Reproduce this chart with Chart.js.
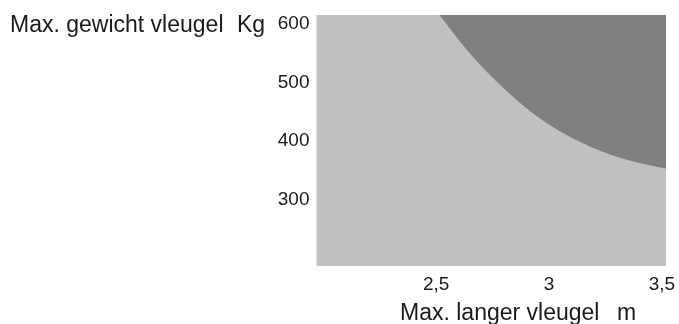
<!DOCTYPE html>
<html>
<head>
<meta charset="utf-8">
<script src="https://cdn.jsdelivr.net/npm/chart.js@4.4.0/dist/chart.umd.min.js"></script>
<style>
  html, body { margin: 0; padding: 0; background: #fff; }
  #wrap { width: 679px; height: 324px; }
</style>
</head>
<body>
<div id="wrap"><canvas id="chart" width="679" height="324"></canvas></div>
<script>
// boundary curve: max wing length (m) vs max wing weight (kg)
const curveLength = [2.517, 2.65, 2.796, 2.947, 3.093, 3.27, 3.416, 3.518];
const curveWeight = [615, 550, 492, 443, 408, 378, 362, 354];

const xTicks = [2.5, 3, 3.5];
const yTicks = [300, 400, 500, 600];

const yTitle = 'Max. gewicht vleugel';
const yUnit = 'Kg';
const xTitle = 'Max. langer vleugel';
const xUnit = 'm';

const FONT = '"Liberation Sans", Arial, Helvetica, sans-serif';

// light grey background inside the plot area
const areaBg = {
    id: 'areaBg',
    beforeDatasetsDraw(chart) {
        const { ctx, chartArea: a } = chart;
        ctx.save();
        ctx.fillStyle = '#c0c0c0';
        ctx.fillRect(a.left, a.top, a.right - a.left, a.bottom - a.top);
        ctx.restore();
    }
};

// axis titles sit horizontally, not rotated
const axisTitles = {
    id: 'axisTitles',
    afterDraw(chart) {
        const ctx = chart.ctx;
        ctx.save();
        ctx.fillStyle = '#1a1a1a';
        ctx.font = '23px ' + FONT;
        ctx.textAlign = 'left';
        ctx.textBaseline = 'alphabetic';
        ctx.fillText(yTitle, 10, 32);
        ctx.fillText(yUnit, 237, 32);
        ctx.fillText(xTitle, 400, 320);
        ctx.fillText(xUnit, 617, 320);
        ctx.restore();
    }
};

const fmt = v => String(v).replace('.', ',');

new Chart(document.getElementById('chart').getContext('2d'), {
    type: 'scatter',
    data: {
        datasets: [{
            data: curveLength.map((x, i) => ({ x: x, y: curveWeight[i] })),
            showLine: true,
            fill: 'end',
            backgroundColor: '#808080',
            borderColor: '#808080',
            borderWidth: 1,
            pointRadius: 0,
            cubicInterpolationMode: 'monotone'
        }]
    },
    options: {
        responsive: false,
        animation: false,
        layout: { padding: { left: 0, right: 13, top: 15, bottom: 0 } },
        plugins: { legend: { display: false }, tooltip: { enabled: false } },
        scales: {
            x: {
                type: 'linear',
                min: 1.97,
                max: 3.518,
                afterBuildTicks: s => { s.ticks = xTicks.map(v => ({ value: v })); },
                afterFit: s => { s.height = 58; s.paddingLeft = 0; s.paddingRight = 0; },
                grid: { display: false, drawTicks: false },
                border: { display: false },
                ticks: {
                    padding: 7,
                    color: '#1a1a1a',
                    font: { family: FONT, size: 19 },
                    maxRotation: 0,
                    callback: v => fmt(v)
                }
            },
            y: {
                type: 'linear',
                min: 187,
                max: 615,
                afterBuildTicks: s => { s.ticks = yTicks.map(v => ({ value: v })); },
                afterFit: s => { s.width = 316.5; s.paddingTop = 0; s.paddingBottom = 0; },
                grid: { display: false, drawTicks: false },
                border: { display: false },
                ticks: {
                    padding: 7,
                    color: '#1a1a1a',
                    font: { family: FONT, size: 19 },
                    callback: v => fmt(v)
                }
            }
        }
    },
    plugins: [areaBg, axisTitles]
});
</script>
</body>
</html>
